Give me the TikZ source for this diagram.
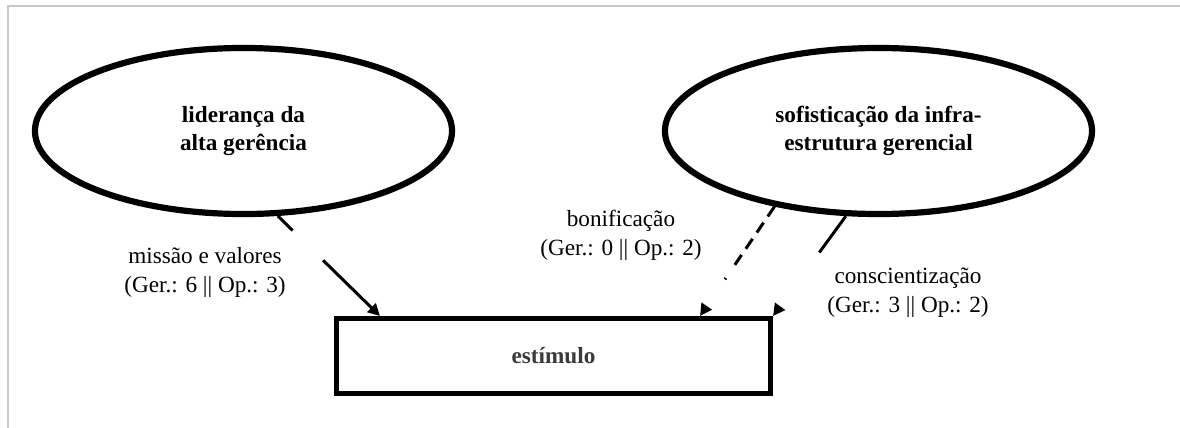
\documentclass[tikz,border=0pt]{standalone}
\usepackage{fontspec}
\setmainfont{Liberation Serif}
\usetikzlibrary{shapes.geometric,arrows.meta}
\definecolor{quadro}{HTML}{C8C8C8}
\definecolor{cinzaest}{HTML}{3A3A3A}

\begin{document}
\begin{tikzpicture}[x=0.025cm,y=-0.025cm,
    conceito/.style={ellipse,draw,line width=0.155cm,minimum height=4.15cm,inner sep=0pt,align=center,font=\fontsize{16.5}{20}\selectfont\bfseries},
    rotulo/.style={align=center,inner sep=0pt,anchor=base,font=\fontsize{16.5}{20}\selectfont},
    seta/.style={line width=0.075cm,-{Triangle[length=0.3cm,width=0.3cm]}}]
    \useasboundingbox(0,0)rectangle(1180,428);
    \draw[quadro,line width=0.05cm](8,428)--(8,6)--(1180,6);
    \node[conceito,minimum width=10.425cm](lid)at(243.5,131){liderança da\\alta gerência};
    \node[conceito,minimum width=10.675cm](inf)at(878.5,131){sofisticação da infra-\\estrutura gerencial};
    \node[draw,line width=0.125cm,minimum width=10.85cm,minimum height=1.875cm,inner sep=0pt,text=cinzaest,font=\fontsize{16.5}{20}\selectfont\bfseries](est)at(553.5,356){estímulo};
    \node[rotulo](missao)at(205,292){missão e valores\\(Ger.: 6 || Op.: 3)};
    \node[rotulo](bonif)at(621,255){bonificação\\(Ger.: 0 || Op.: 2)};
    \node[rotulo](consc)at(908,312){conscientização\\(Ger.: 3 || Op.: 2)};
    \draw[seta,dash pattern=on 0.52cm off 1.0625cm on 12cm](lid.-68.6)--([xshift=1.15cm]est.north west);
    \draw[seta,dash pattern=on 0.3cm off 0.1875cm on 0.3cm off 0.1875cm on 0.3cm off 0.1875cm on 0.3cm off 0.4cm on 0.0375cm off 5cm](inf.-144.4)--([xshift=-1.825cm]est.north east);
    \draw[seta,dash pattern=on 1.125cm off 10cm](inf.-111.4)--(est.north east);
\end{tikzpicture}
\end{document}
